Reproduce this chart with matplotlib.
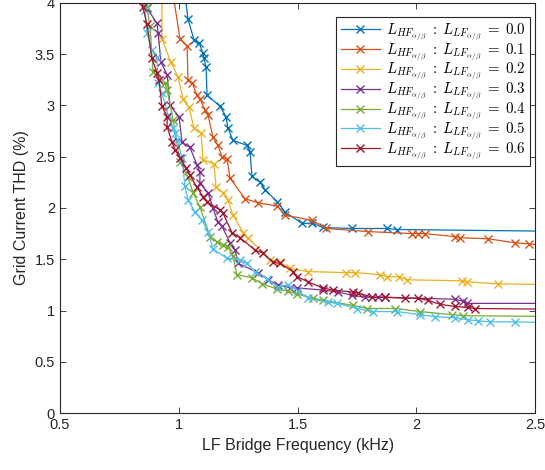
import numpy as np
import matplotlib
matplotlib.use("Agg")
import matplotlib.pyplot as plt

plt.rcParams["font.family"] = ["Liberation Sans", "DejaVu Sans"]
plt.rcParams["mathtext.fontset"] = "cm"

# ratio L_HF : L_LF for each sweep
ratios = ["0.0", "0.1", "0.2", "0.3", "0.4", "0.5", "0.6"]

# LF bridge frequency (kHz) and grid current THD (%) per ratio
f_00 = [1.02, 1.039, 1.064, 1.085, 1.102, 1.106, 1.115, 1.119, 1.174, 1.199, 1.207,
        1.228, 1.287, 1.300, 1.308, 1.342, 1.363, 1.414, 1.447, 1.519, 1.561, 1.607,
        1.729, 1.877, 1.919, 2.70]
thd_00 = [4.2, 3.84, 3.64, 3.61, 3.51, 3.46, 3.37, 3.10, 2.99, 2.89, 2.78,
          2.66, 2.61, 2.55, 2.31, 2.25, 2.18, 2.06, 1.96, 1.85, 1.85, 1.81,
          1.80, 1.80, 1.79, 1.77]

f_01 = [0.975, 1.005, 1.035, 1.039, 1.056, 1.077, 1.089, 1.111, 1.123, 1.144, 1.165,
        1.182, 1.203, 1.216, 1.279, 1.334, 1.414, 1.447, 1.561, 1.620, 1.797, 1.982,
        2.007, 2.037, 2.163, 2.184, 2.302, 2.416, 2.475, 2.52]
thd_01 = [4.1, 3.65, 3.58, 3.25, 3.22, 3.10, 3.06, 2.96, 2.91, 2.69, 2.61,
          2.50, 2.48, 2.29, 2.09, 2.05, 2.02, 1.93, 1.88, 1.80, 1.77, 1.75,
          1.75, 1.75, 1.72, 1.71, 1.70, 1.66, 1.65, 1.64]

f_02 = [0.93, 0.929, 0.967, 0.997, 1.018, 1.043, 1.064, 1.094, 1.102, 1.148, 1.157,
        1.186, 1.207, 1.228, 1.271, 1.292, 1.355, 1.384, 1.426, 1.468, 1.544, 1.704,
        1.742, 1.847, 1.877, 1.927, 1.961, 2.193, 2.214, 2.344, 2.70]
thd_02 = [4.2, 3.65, 3.42, 3.28, 3.06, 2.98, 2.78, 2.73, 2.47, 2.43, 2.20,
          2.15, 2.08, 1.93, 1.76, 1.71, 1.56, 1.49, 1.47, 1.41, 1.38, 1.37,
          1.37, 1.35, 1.33, 1.33, 1.30, 1.29, 1.28, 1.26, 1.25]

f_03 = [0.86, 0.866, 0.908, 0.913, 0.925, 0.951, 0.963, 1.001, 1.014, 1.047, 1.077,
        1.089, 1.089, 1.123, 1.144, 1.165, 1.182, 1.216, 1.237, 1.249, 1.334, 1.376,
        1.418, 1.468, 1.498, 1.607, 1.671, 1.729, 1.784, 1.839, 1.868, 2.163, 2.197,
        2.214, 2.70]
thd_03 = [4.1, 3.95, 3.80, 3.71, 3.42, 3.30, 3.00, 2.89, 2.64, 2.59, 2.42,
          2.35, 2.24, 2.15, 2.00, 1.86, 1.82, 1.66, 1.59, 1.46, 1.37, 1.30,
          1.25, 1.22, 1.22, 1.20, 1.18, 1.15, 1.13, 1.13, 1.13, 1.11, 1.09,
          1.07, 1.07]

f_04 = [0.85, 0.866, 0.879, 0.892, 0.942, 0.951, 0.976, 1.005, 1.039, 1.060, 1.089,
        1.132, 1.161, 1.186, 1.207, 1.228, 1.245, 1.308, 1.351, 1.414, 1.460, 1.498,
        1.565, 1.607, 1.734, 1.793, 1.911, 2.016, 2.151, 2.197, 2.70]
thd_04 = [4.1, 3.96, 3.77, 3.33, 3.22, 3.15, 2.86, 2.45, 2.30, 2.15, 2.01,
          1.72, 1.67, 1.64, 1.62, 1.53, 1.35, 1.32, 1.26, 1.21, 1.19, 1.16,
          1.12, 1.10, 1.05, 1.02, 1.02, 0.99, 0.96, 0.95, 0.94]

f_05 = [0.85, 0.858, 0.866, 0.887, 0.908, 0.913, 0.929, 0.955, 0.976, 0.984, 0.993,
        1.014, 1.026, 1.039, 1.068, 1.098, 1.123, 1.144, 1.203, 1.258, 1.287, 1.321,
        1.372, 1.418, 1.460, 1.502, 1.544, 1.628, 1.666, 1.751, 1.818, 1.919, 2.016,
        2.079, 2.163, 2.218, 2.260, 2.311, 2.416, 2.60]
thd_05 = [4.05, 3.93, 3.71, 3.54, 3.47, 3.22, 3.12, 2.91, 2.78, 2.73, 2.66,
          2.49, 2.21, 2.08, 1.96, 1.88, 1.77, 1.60, 1.51, 1.49, 1.46, 1.38,
          1.31, 1.23, 1.25, 1.19, 1.12, 1.08, 1.07, 1.02, 0.99, 0.99, 0.96,
          0.94, 0.93, 0.91, 0.90, 0.89, 0.89, 0.88]

f_06 = [0.84, 0.849, 0.866, 0.887, 0.908, 0.917, 0.929, 0.951, 0.951, 0.972, 0.984,
        1.005, 1.031, 1.047, 1.077, 1.102, 1.119, 1.174, 1.186, 1.224, 1.258, 1.321,
        1.355, 1.397, 1.426, 1.481, 1.498, 1.544, 1.607, 1.649, 1.734, 1.755, 1.814,
        1.868, 1.953, 2.007, 2.049, 2.100, 2.163, 2.218, 2.247, 2.70]
thd_06 = [4.1, 3.96, 3.79, 3.46, 3.32, 3.25, 2.99, 2.89, 2.79, 2.64, 2.57,
          2.49, 2.39, 2.32, 2.20, 2.11, 2.06, 1.98, 1.95, 1.76, 1.71, 1.59,
          1.56, 1.47, 1.46, 1.38, 1.33, 1.28, 1.22, 1.20, 1.18, 1.17, 1.13,
          1.13, 1.12, 1.12, 1.10, 1.06, 1.04, 1.03, 1.02, 1.01]

freqs = [f_00, f_01, f_02, f_03, f_04, f_05, f_06]
thds = [thd_00, thd_01, thd_02, thd_03, thd_04, thd_05, thd_06]

COLORS = ["#0072BD", "#D95319", "#EDB120", "#7E2F8E", "#77AC30", "#4DBEEE", "#A2142F"]

fig = plt.figure(figsize=(5.45, 4.70), dpi=100)
ax = fig.add_axes([0.110, 0.121, 0.872, 0.873])

for f, thd, r, c in zip(freqs, thds, ratios, COLORS):
    ax.plot(f, thd, "-x", color=c, lw=0.9, ms=6, mew=1.0,
            label=r"$L_{HF_{\alpha/\beta}}\;:\;L_{LF_{\alpha/\beta}}\;=\;%s$" % r)

ax.set_xlim(0.5, 2.5)
ax.set_ylim(0, 4)
ax.set_xticks([0.5, 1, 1.5, 2, 2.5])
ax.set_xticklabels(["0.5", "1", "1.5", "2", "2.5"])
ax.set_yticks(np.arange(0, 4.01, 0.5))
ax.set_yticklabels(["0", "0.5", "1", "1.5", "2", "2.5", "3", "3.5", "4"])
ax.tick_params(direction="in", top=True, right=True, labelsize=10.5,
               length=4, width=0.6, colors="#262626")
for s in ax.spines.values():
    s.set_linewidth(0.8)
    s.set_color("#262626")

ax.set_xlabel("LF Bridge Frequency (kHz)", fontsize=11.5, color="#262626")
ax.set_ylabel("Grid Current THD (%)", fontsize=11.5, color="#262626")

leg = ax.legend(loc="upper right", bbox_to_anchor=(0.9895, 0.966), fontsize=10.8,
                handlelength=2.6, borderaxespad=0, labelspacing=-0.1,
                fancybox=False, framealpha=1, edgecolor="#262626",
                borderpad=0.3, handletextpad=0.4)
leg.get_frame().set_linewidth(0.8)

fig.savefig("out.png", dpi=100)
